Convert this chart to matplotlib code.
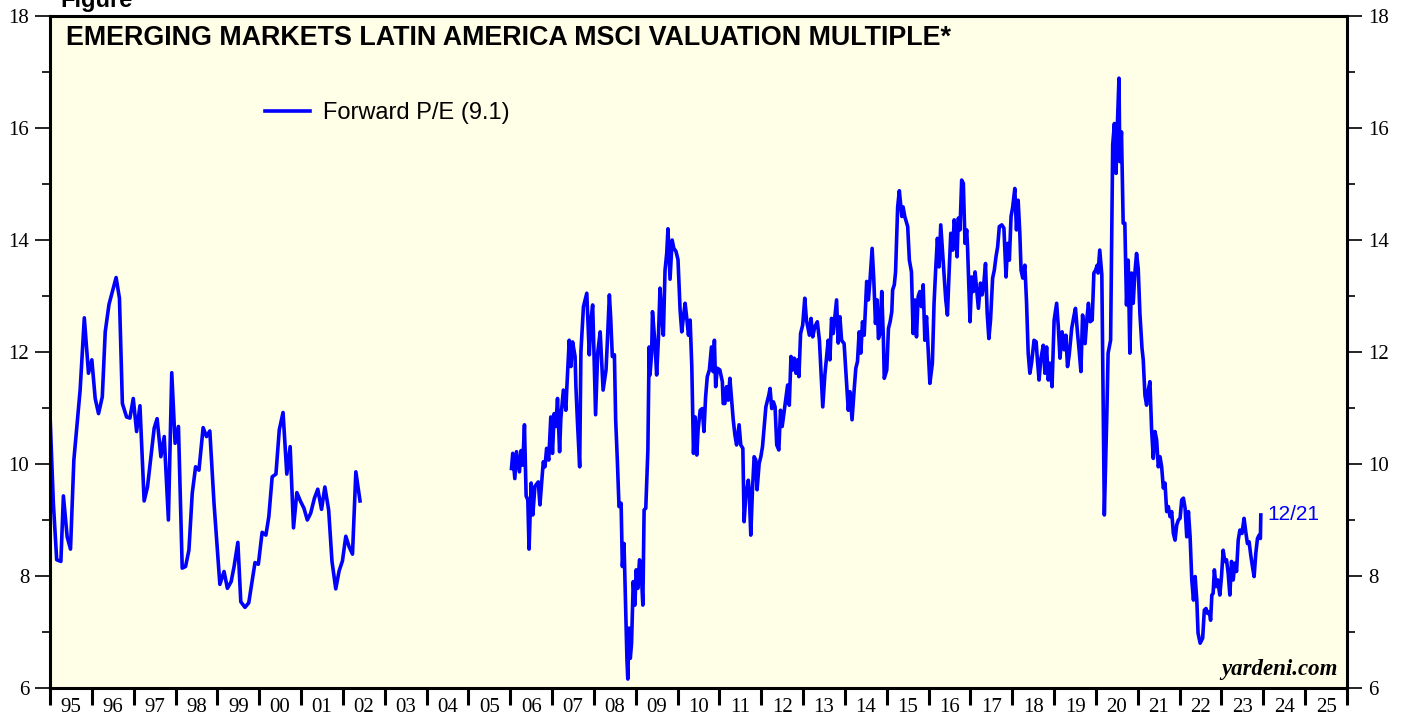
from __future__ import annotations

import matplotlib

matplotlib.use("Agg")
import matplotlib.pyplot as plt
from matplotlib.ticker import FixedLocator, FuncFormatter, MultipleLocator

# Forward P/E, monthly, 1995 to mid-2002 (decimal years)
EARLY_YEARS = [
    1995.00, 1995.08, 1995.16, 1995.26, 1995.32, 1995.41, 1995.49, 1995.57, 1995.72, 1995.82,
    1995.92, 1996.00, 1996.08, 1996.16, 1996.25, 1996.32, 1996.41, 1996.58, 1996.66, 1996.73,
    1996.83, 1996.91, 1996.99, 1997.07, 1997.15, 1997.25, 1997.33, 1997.49, 1997.56, 1997.65,
    1997.73, 1997.83, 1997.91, 1997.99, 1998.07, 1998.16, 1998.24, 1998.32, 1998.40, 1998.48,
    1998.56, 1998.66, 1998.74, 1998.82, 1998.92, 1999.06, 1999.16, 1999.24, 1999.33, 1999.40,
    1999.49, 1999.56, 1999.66, 1999.75, 1999.90, 1999.98, 2000.07, 2000.16, 2000.23, 2000.31,
    2000.40, 2000.48, 2000.57, 2000.66, 2000.74, 2000.82, 2000.90, 2000.99, 2001.07, 2001.15,
    2001.23, 2001.32, 2001.40, 2001.49, 2001.57, 2001.66, 2001.74, 2001.83, 2001.91, 2001.99,
    2002.07, 2002.15, 2002.23, 2002.31, 2002.41,
]
EARLY_PE = [
    10.88, 9.30, 8.29, 8.26, 9.43, 8.70, 8.48, 10.07, 11.32, 12.61,
    11.62, 11.86, 11.17, 10.90, 11.20, 12.36, 12.85, 13.33, 12.96, 11.08,
    10.84, 10.82, 11.17, 10.58, 11.04, 9.34, 9.59, 10.64, 10.81, 10.13,
    10.49, 9.00, 11.63, 10.37, 10.67, 8.14, 8.17, 8.46, 9.48, 9.95,
    9.89, 10.65, 10.49, 10.59, 9.30, 7.85, 8.08, 7.78, 7.90, 8.17,
    8.60, 7.54, 7.44, 7.52, 8.24, 8.21, 8.78, 8.73, 9.06, 9.77,
    9.82, 10.61, 10.92, 9.82, 10.31, 8.86, 9.49, 9.33, 9.21, 9.00,
    9.12, 9.39, 9.55, 9.19, 9.59, 9.18, 8.26, 7.77, 8.09, 8.27,
    8.71, 8.52, 8.39, 9.86, 9.34,
]

# Forward P/E, weekly, 2006 to end of 2023 (decimal years)
LATE_YEARS = [
    2006.03, 2006.06, 2006.11, 2006.15, 2006.22, 2006.26, 2006.30, 2006.34, 2006.38, 2006.42,
    2006.45, 2006.50, 2006.54, 2006.59, 2006.67, 2006.71, 2006.79, 2006.83, 2006.87, 2006.92,
    2006.97, 2007.01, 2007.05, 2007.09, 2007.13, 2007.18, 2007.21, 2007.27, 2007.33, 2007.35,
    2007.38, 2007.41, 2007.45, 2007.49, 2007.55, 2007.57, 2007.61, 2007.66, 2007.69, 2007.75,
    2007.83, 2007.89, 2007.93, 2007.97, 2008.00, 2008.04, 2008.09, 2008.15, 2008.22, 2008.29,
    2008.32, 2008.37, 2008.40, 2008.44, 2008.49, 2008.52, 2008.56, 2008.60, 2008.65, 2008.68,
    2008.72, 2008.77, 2008.79, 2008.81, 2008.84, 2008.87, 2008.90, 2008.94, 2008.98, 2009.01,
    2009.05, 2009.09, 2009.12, 2009.17, 2009.20, 2009.24, 2009.29, 2009.32, 2009.34, 2009.38,
    2009.40, 2009.46, 2009.50, 2009.54, 2009.58, 2009.62, 2009.66, 2009.70, 2009.74, 2009.77,
    2009.82, 2009.87, 2009.91, 2009.96, 2010.01, 2010.06, 2010.10, 2010.14, 2010.18, 2010.22,
    2010.26, 2010.30, 2010.34, 2010.38, 2010.42, 2010.46, 2010.49, 2010.54, 2010.59, 2010.63,
    2010.67, 2010.71, 2010.76, 2010.81, 2010.85, 2010.88, 2010.91, 2010.95, 2011.01, 2011.07,
    2011.09, 2011.13, 2011.17, 2011.21, 2011.25, 2011.29, 2011.33, 2011.37, 2011.41, 2011.47,
    2011.51, 2011.56, 2011.59, 2011.63, 2011.69, 2011.71, 2011.75, 2011.79, 2011.83, 2011.87,
    2011.90, 2011.95, 2011.99, 2012.03, 2012.07, 2012.11, 2012.14, 2012.18, 2012.21, 2012.25,
    2012.29, 2012.33, 2012.37, 2012.42, 2012.46, 2012.50, 2012.55, 2012.59, 2012.63, 2012.67,
    2012.71, 2012.75, 2012.79, 2012.83, 2012.87, 2012.90, 2012.94, 2012.99, 2013.04, 2013.08,
    2013.15, 2013.19, 2013.23, 2013.28, 2013.34, 2013.39, 2013.43, 2013.47, 2013.52, 2013.56,
    2013.60, 2013.64, 2013.68, 2013.72, 2013.76, 2013.80, 2013.84, 2013.88, 2013.92, 2013.98,
    2014.02, 2014.08, 2014.12, 2014.17, 2014.22, 2014.26, 2014.30, 2014.34, 2014.38, 2014.42,
    2014.46, 2014.52, 2014.56, 2014.60, 2014.65, 2014.69, 2014.73, 2014.77, 2014.80, 2014.84,
    2014.88, 2014.92, 2014.94, 2015.00, 2015.04, 2015.08, 2015.12, 2015.14, 2015.18, 2015.21,
    2015.26, 2015.30, 2015.36, 2015.39, 2015.43, 2015.50, 2015.54, 2015.59, 2015.63, 2015.67,
    2015.71, 2015.75, 2015.79, 2015.83, 2015.87, 2015.91, 2015.95, 2015.99, 2016.03, 2016.09,
    2016.13, 2016.17, 2016.21, 2016.25, 2016.29, 2016.33, 2016.37, 2016.41, 2016.45, 2016.49,
    2016.53, 2016.58, 2016.61, 2016.65, 2016.68, 2016.71, 2016.75, 2016.79, 2016.83, 2016.87,
    2016.91, 2016.93, 2016.99, 2017.03, 2017.07, 2017.11, 2017.15, 2017.19, 2017.24, 2017.28,
    2017.32, 2017.36, 2017.40, 2017.44, 2017.48, 2017.53, 2017.57, 2017.61, 2017.65, 2017.69,
    2017.75, 2017.80, 2017.85, 2017.89, 2017.93, 2017.97, 2018.01, 2018.06, 2018.10, 2018.14,
    2018.18, 2018.21, 2018.25, 2018.30, 2018.34, 2018.38, 2018.42, 2018.46, 2018.52, 2018.57,
    2018.60, 2018.64, 2018.68, 2018.74, 2018.78, 2018.82, 2018.86, 2018.90, 2018.95, 2019.00,
    2019.06, 2019.10, 2019.14, 2019.19, 2019.24, 2019.28, 2019.32, 2019.36, 2019.42, 2019.47,
    2019.51, 2019.56, 2019.60, 2019.64, 2019.68, 2019.74, 2019.78, 2019.82, 2019.86, 2019.91,
    2019.95, 2019.99, 2020.03, 2020.05, 2020.09, 2020.14, 2020.17, 2020.20, 2020.26, 2020.29,
    2020.35, 2020.40, 2020.44, 2020.48, 2020.51, 2020.55, 2020.57, 2020.61, 2020.65, 2020.69,
    2020.73, 2020.77, 2020.81, 2020.85, 2020.89, 2020.93, 2020.97, 2021.01, 2021.05, 2021.10,
    2021.13, 2021.17, 2021.21, 2021.25, 2021.29, 2021.33, 2021.37, 2021.41, 2021.45, 2021.49,
    2021.53, 2021.57, 2021.61, 2021.65, 2021.69, 2021.73, 2021.77, 2021.81, 2021.85, 2021.89,
    2021.93, 2021.97, 2022.01, 2022.05, 2022.09, 2022.13, 2022.17, 2022.21, 2022.25, 2022.29,
    2022.33, 2022.37, 2022.41, 2022.44, 2022.49, 2022.55, 2022.59, 2022.63, 2022.67, 2022.71,
    2022.74, 2022.77, 2022.80, 2022.83, 2022.87, 2022.91, 2022.96, 2023.00, 2023.04, 2023.08,
    2023.12, 2023.16, 2023.20, 2023.24, 2023.28, 2023.32, 2023.36, 2023.40, 2023.44, 2023.49,
    2023.54, 2023.58, 2023.62, 2023.66, 2023.70, 2023.74, 2023.78, 2023.82, 2023.86, 2023.90,
    2023.93, 2023.94,
]
LATE_PE = [
    9.92, 10.19, 9.74, 10.22, 9.86, 10.24, 9.98, 10.70, 9.43, 9.36,
    8.48, 9.66, 9.09, 9.60, 9.68, 9.27, 10.04, 9.95, 10.28, 10.07,
    10.84, 10.19, 10.90, 10.67, 11.17, 10.22, 10.82, 11.32, 10.96, 11.32,
    11.77, 12.21, 11.74, 12.18, 11.92, 11.38, 10.70, 9.95, 12.01, 12.81,
    13.05, 11.95, 12.57, 12.84, 12.04, 10.88, 11.98, 12.36, 11.32, 11.68,
    12.16, 13.02, 12.63, 11.92, 11.95, 10.79, 10.07, 9.24, 9.30, 8.17,
    8.58, 7.04, 6.50, 6.16, 7.07, 6.53, 6.80, 7.90, 7.48, 8.11,
    7.78, 8.29, 8.23, 7.48, 9.18, 9.21, 10.25, 12.09, 11.59, 11.98,
    12.72, 12.15, 11.59, 12.21, 13.14, 12.63, 12.30, 13.46, 13.76, 14.20,
    13.30, 14.00, 13.85, 13.80, 13.65, 12.75, 12.36, 12.63, 12.87, 12.60,
    12.30, 12.57, 11.74, 10.19, 10.84, 10.16, 10.61, 10.96, 10.99, 10.58,
    11.20, 11.56, 11.68, 12.09, 11.65, 12.21, 11.38, 11.71, 11.68, 11.47,
    11.08, 11.08, 11.38, 11.14, 11.53, 11.17, 10.79, 10.52, 10.34, 10.70,
    10.34, 10.28, 8.97, 9.42, 9.71, 9.54, 8.73, 9.54, 10.13, 10.07,
    9.54, 10.01, 10.13, 10.31, 10.67, 11.02, 11.11, 11.23, 11.35, 10.99,
    11.11, 11.02, 10.34, 10.25, 10.96, 10.67, 10.96, 11.20, 11.41, 11.05,
    11.92, 11.68, 11.89, 11.62, 11.86, 11.56, 12.33, 12.48, 12.96, 12.57,
    12.30, 12.60, 12.27, 12.45, 12.54, 12.21, 11.62, 11.02, 11.59, 11.89,
    12.21, 11.86, 12.60, 12.33, 12.63, 12.93, 12.16, 12.63, 12.21, 12.15,
    11.68, 10.96, 11.29, 10.79, 11.32, 11.71, 11.83, 12.36, 11.98, 12.54,
    12.30, 13.26, 12.93, 13.29, 13.85, 13.29, 12.51, 12.93, 12.24, 12.33,
    13.08, 12.21, 11.53, 11.68, 12.42, 12.54, 12.72, 13.11, 13.20, 13.43,
    14.59, 14.88, 14.42, 14.59, 14.42, 14.24, 13.64, 13.43, 12.33, 12.93,
    12.27, 12.99, 13.08, 12.81, 13.20, 12.21, 12.63, 12.04, 11.44, 11.80,
    12.87, 13.49, 14.03, 13.52, 14.27, 13.82, 13.38, 12.93, 12.66, 13.43,
    14.12, 13.82, 14.36, 14.18, 13.70, 14.39, 14.18, 15.07, 15.01, 13.94,
    14.18, 13.88, 12.54, 13.34, 13.08, 13.43, 13.11, 12.78, 13.23, 13.02,
    13.23, 13.58, 12.69, 12.24, 12.57, 13.32, 13.46, 13.70, 13.88, 14.24,
    14.27, 14.21, 13.34, 13.94, 13.64, 14.42, 14.59, 14.92, 14.18, 14.71,
    14.12, 13.46, 13.32, 13.55, 12.90, 11.98, 11.62, 11.80, 12.21, 12.18,
    11.86, 11.50, 11.86, 12.12, 11.62, 12.09, 11.50, 11.80, 11.38, 12.57,
    12.87, 12.45, 11.89, 12.36, 12.04, 12.30, 11.74, 11.95, 12.42, 12.63,
    12.78, 12.33, 12.01, 11.65, 12.66, 12.15, 12.57, 12.87, 12.54, 12.57,
    13.41, 13.46, 13.55, 13.41, 13.82, 13.38, 11.17, 9.09, 10.90, 11.98,
    12.21, 15.70, 16.08, 15.19, 16.02, 16.89, 15.40, 15.93, 14.30, 14.30,
    12.84, 13.64, 11.98, 13.41, 12.87, 13.41, 13.76, 13.49, 12.69, 12.07,
    11.86, 11.23, 11.05, 11.32, 11.47, 10.61, 10.10, 10.58, 10.43, 9.95,
    10.13, 9.95, 9.57, 9.66, 9.15, 9.24, 9.06, 9.15, 8.76, 8.64,
    8.91, 9.00, 9.03, 9.36, 9.39, 9.21, 8.70, 9.15, 8.70, 7.93,
    7.57, 7.99, 7.57, 6.98, 6.80, 6.89, 7.39, 7.42, 7.33, 7.36,
    7.21, 7.66, 7.69, 8.11, 7.81, 7.93, 7.66, 7.99, 8.46, 8.26,
    8.29, 8.05, 7.66, 8.26, 7.93, 8.23, 8.08, 8.64, 8.82, 8.76,
    9.03, 8.79, 8.58, 8.61, 8.37, 8.17, 7.99, 8.40, 8.67, 8.73,
    8.67, 9.09,
]

YEAR_START = 1995
YEAR_END = 2026
LINE_COLOR = "#0000ff"
PANEL_COLOR = "#fffee6"
SANS = "Liberation Sans"
SERIF = "Liberation Serif"


def _style_axes(ax) -> None:
    ax.set_facecolor(PANEL_COLOR)
    ax.set_xlim(YEAR_START, YEAR_END)
    ax.set_ylim(6, 18)
    for side in ("left", "right", "top", "bottom"):
        ax.spines[side].set_linewidth(2.2)
        ax.spines[side].set_color("black")

    # year boundaries get the ticks, the labels sit mid-year
    years = list(range(YEAR_START, YEAR_END + 1))
    ax.xaxis.set_major_locator(FixedLocator(years))
    ax.xaxis.set_major_formatter(FuncFormatter(lambda v, p: ""))
    ax.xaxis.set_minor_locator(FixedLocator([y + 0.5 for y in years[:-1]]))
    ax.xaxis.set_minor_formatter(FuncFormatter(lambda v, p: f"{int(v) % 100:02d}"))
    ax.tick_params(axis="x", which="major", direction="out", length=12, width=2.2)
    ax.tick_params(axis="x", which="minor", length=0, pad=7, labelsize=15)

    ax.yaxis.set_major_locator(MultipleLocator(2))
    ax.yaxis.set_minor_locator(MultipleLocator(1))
    ax.tick_params(axis="y", which="major", direction="out", length=11, width=1.2,
                   left=True, right=True, labelleft=True, labelright=True, pad=4,
                   labelsize=15)
    ax.tick_params(axis="y", which="minor", direction="out", length=6, width=1.2,
                   left=True, right=True)

    for lab in ax.get_xticklabels(minor=True) + ax.get_yticklabels():
        lab.set_fontfamily(SERIF)


def main() -> None:
    fig = plt.figure(figsize=(14.05, 7.19), dpi=100)
    ax = fig.add_axes([50 / 1405, 1 - 688 / 719, 1297 / 1405, 672 / 719])
    _style_axes(ax)

    line, = ax.plot(EARLY_YEARS, EARLY_PE, color=LINE_COLOR, linewidth=2.6,
                    solid_joinstyle="round", label="Forward P/E (9.1)")
    ax.plot(LATE_YEARS, LATE_PE, color=LINE_COLOR, linewidth=2.6, solid_joinstyle="round")

    ax.legend(handles=[line], loc="center left", bbox_to_anchor=(0.166, 0.855),
              frameon=False, borderpad=0, borderaxespad=0, handlelength=1.9,
              handletextpad=0.55, prop={"family": SANS, "size": 17})

    ax.text(0.012, 0.986, "EMERGING MARKETS LATIN AMERICA MSCI VALUATION MULTIPLE*",
            transform=ax.transAxes, ha="left", va="top", fontsize=19.4,
            fontweight="bold", family=SANS)
    ax.text(LATE_YEARS[-1] + 0.15, LATE_PE[-1], "12/21", color=LINE_COLOR,
            ha="left", va="center", fontsize=15, family=SANS)
    ax.text(0.993, 0.012, "yardeni.com", transform=ax.transAxes, ha="right",
            va="bottom", fontsize=16.5, fontweight="bold", fontstyle="italic", family=SERIF)
    fig.text(60 / 1405, 1.0, "Figure", ha="left", va="center", fontsize=17,
             fontweight="bold", family=SANS)

    fig.savefig("out.png", dpi=100, facecolor="white")
    plt.close(fig)


if __name__ == "__main__":
    main()
